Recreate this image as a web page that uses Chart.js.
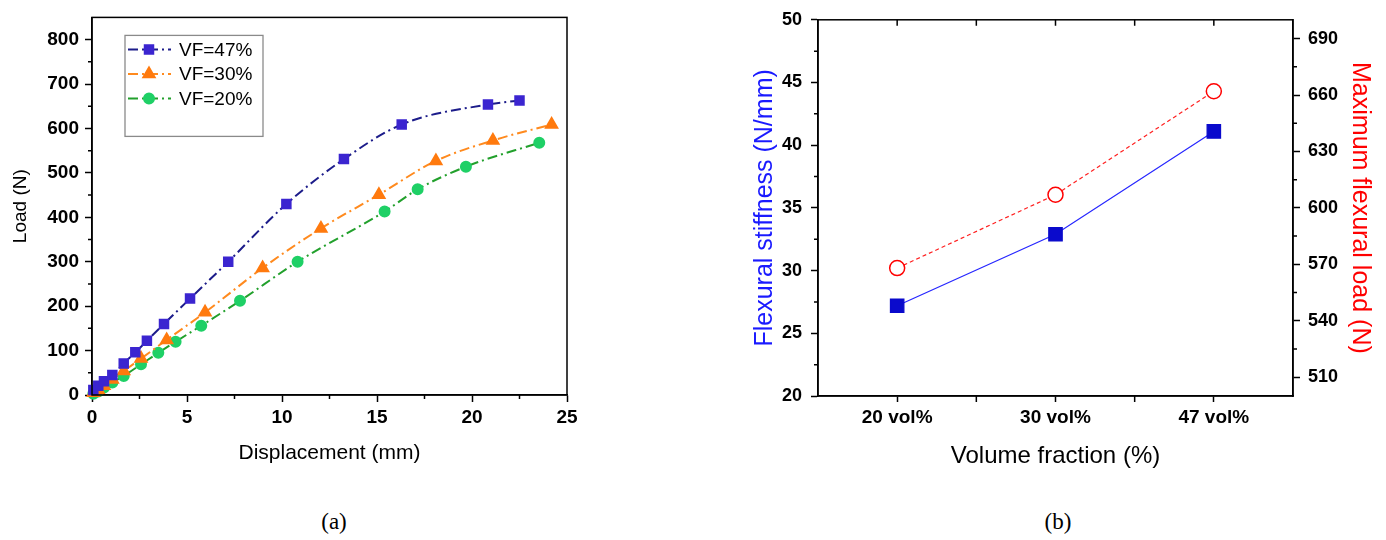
<!DOCTYPE html>
<html>
<head>
<meta charset="utf-8">
<script src="https://cdn.jsdelivr.net/npm/chart.js@4.4.1/dist/chart.umd.min.js"></script>
<style>
  body { margin: 0; background: #fff; width: 1386px; height: 540px; position: relative; overflow: hidden; }
  .wrap { position: absolute; top: 0; }
  #wrapA { left: 5px; width: 595px; height: 470px; }
  #wrapB { left: 746px; width: 633px; height: 475px; }
  .cap { position: absolute; top: 509px; line-height: 26px; font: 23px 'Liberation Serif', 'Times New Roman', serif; transform: translateX(-50%); }
</style>
</head>
<body>
<div class="wrap" id="wrapA"><canvas id="chartA"></canvas></div>
<div class="wrap" id="wrapB"><canvas id="chartB"></canvas></div>
<div class="cap" style="left:334px">(a)</div>
<div class="cap" style="left:1058px">(b)</div>
<script>
// (a) load-displacement curves
const vf47X = [0.07, 0.33, 0.63, 1.07, 1.67, 2.28, 2.89, 3.79, 5.16, 7.17, 10.23, 13.26, 16.3, 20.84, 22.5];
const vf47Y = [11, 21, 31, 45, 71, 96, 122, 160, 217, 300, 430, 531, 609, 654, 663];
const vf30X = [0.07, 0.33, 0.63, 1.07, 1.67, 2.58, 3.93, 5.95, 8.98, 12.05, 15.1, 18.1, 21.1, 24.19];
const vf30Y = [5, 11, 21, 35, 54, 82, 124, 186, 286, 375, 451, 527, 573, 609];
const vf20X = [0.07, 0.33, 0.63, 1.07, 1.67, 2.58, 3.49, 4.4, 5.75, 7.79, 10.82, 15.4, 17.14, 19.68, 23.54];
const vf20Y = [3, 8, 17, 28, 43, 69, 95, 120, 156, 212, 300, 413, 463, 514, 568];
const loadTicks = [0, 100, 200, 300, 400, 500, 600, 700, 800];

// (b) stiffness and max load vs volume fraction
const fractions = ['20 vol%', '30 vol%', '47 vol%'];
const stiffness = [27.2, 32.9, 41.1];
const maxLoad = [568, 607, 662];
const maxLoadTicks = [510, 540, 570, 600, 630, 660, 690];

Chart.defaults.font.family = "'Liberation Sans', Arial, sans-serif";
Chart.defaults.color = '#000';
Chart.defaults.animation = false;

const pts = (xs, ys) => xs.map((x, i) => ({ x: x, y: ys[i] }));

// tiny ticks between the labelled ones (and inward ticks on the top edge)
const minorTicks = {
  id: 'minorTicks',
  afterDraw(chart, args, opts) {
    const ctx = chart.ctx;
    const ca = chart.chartArea;
    ctx.save();
    ctx.strokeStyle = '#000';
    ctx.lineWidth = 1.5;
    (opts.axes || []).forEach(a => {
      const sc = chart.scales[a.id];
      let px = [];
      if (sc.type === 'category') {
        for (let i = 0; i < sc.ticks.length - 1; i++) px.push(sc.getPixelForValue(i + 0.5));
        if (a.major) sc.ticks.forEach((t, i) => px.push(sc.getPixelForValue(i)));
      } else {
        const v = sc.ticks.map(t => t.value);
        const step = v[1] - v[0];
        const mids = v.map(x => x + step / 2);
        mids.unshift(v[0] - step / 2);
        mids.filter(m => m > sc.min && m < sc.max).forEach(m => px.push(sc.getPixelForValue(m)));
      }
      ctx.beginPath();
      px.forEach(p => {
        if (a.edge === 'left') { ctx.moveTo(ca.left, p); ctx.lineTo(ca.left - a.len, p); }
        if (a.edge === 'right') { ctx.moveTo(ca.right, p); ctx.lineTo(ca.right + a.len, p); }
        if (a.edge === 'bottom') { ctx.moveTo(p, ca.bottom); ctx.lineTo(p, ca.bottom + a.len); }
        if (a.edge === 'top') { ctx.moveTo(p, ca.top); ctx.lineTo(p, ca.top + a.len); }
      });
      ctx.stroke();
    });
    ctx.restore();
  }
};

const frame = {
  id: 'frame',
  afterDraw(chart) {
    const { ctx, chartArea: ca } = chart;
    ctx.save();
    ctx.strokeStyle = '#000';
    ctx.lineWidth = 1.5;
    ctx.strokeRect(ca.left, ca.top, ca.right - ca.left, ca.bottom - ca.top);
    ctx.restore();
  }
};

// legend box inside the plot, with line + marker samples
const boxLegend = {
  id: 'boxLegend',
  afterDatasetsDraw(chart, args, o) {
    const { ctx, chartArea: ca } = chart;
    const x0 = ca.left + o.dx, y0 = ca.top + o.dy;
    ctx.save();
    ctx.fillStyle = '#fff';
    ctx.fillRect(x0, y0, o.w, o.h);
    ctx.strokeStyle = '#8a8a8a';
    ctx.lineWidth = 1.3;
    ctx.strokeRect(x0, y0, o.w, o.h);
    chart.data.datasets.forEach((ds, i) => {
      const y = y0 + o.first + i * o.gap;
      ctx.strokeStyle = ds.borderColor;
      ctx.lineWidth = ds.borderWidth;
      ctx.setLineDash(ds.borderDash);
      ctx.beginPath();
      ctx.moveTo(x0 + 3, y);
      ctx.lineTo(x0 + 46, y);
      ctx.stroke();
      ctx.setLineDash([]);
      ctx.fillStyle = ds.pointBackgroundColor;
      ctx.strokeStyle = ds.pointBorderColor;
      Chart.helpers.drawPoint(ctx, { pointStyle: ds.pointStyle, radius: ds.pointRadius, rotation: 0, borderWidth: 1 }, x0 + 24, y);
      ctx.fillStyle = '#000';
      ctx.font = "19px 'Liberation Sans', Arial, sans-serif";
      ctx.textBaseline = 'middle';
      ctx.fillText(ds.label, x0 + 54, y + 1);
    });
    ctx.restore();
  }
};

const dashDot = [10, 4, 2, 4];

new Chart(document.getElementById('chartA'), {
  type: 'line',
  data: {
    datasets: [
      { label: 'VF=47%', data: pts(vf47X, vf47Y), borderColor: '#1c1c8a', borderWidth: 2, borderDash: dashDot,
        pointStyle: 'rect', pointRadius: 6, pointBackgroundColor: '#3b25d0', pointBorderColor: '#3b25d0',
        cubicInterpolationMode: 'monotone', clip: false },
      { label: 'VF=30%', data: pts(vf30X, vf30Y), borderColor: '#ff8a1e', borderWidth: 2, borderDash: dashDot,
        pointStyle: 'triangle', pointRadius: 6.5, pointBackgroundColor: '#ff7a0e', pointBorderColor: '#ff7a0e',
        cubicInterpolationMode: 'monotone', clip: false },
      { label: 'VF=20%', data: pts(vf20X, vf20Y), borderColor: '#22a02c', borderWidth: 2, borderDash: dashDot,
        pointStyle: 'circle', pointRadius: 5, pointBackgroundColor: '#1fd066', pointBorderColor: '#1fd066',
        cubicInterpolationMode: 'monotone', clip: false }
    ]
  },
  options: {
    responsive: true,
    maintainAspectRatio: false,
    layout: { padding: { top: 13, right: 33, left: 0, bottom: 0 } },
    plugins: {
      legend: { display: false },
      tooltip: { enabled: false },
      boxLegend: { dx: 33, dy: 18, w: 138, h: 101, first: 14, gap: 24.5 },
      minorTicks: { axes: [{ id: 'x', edge: 'bottom', len: 4 }, { id: 'y', edge: 'left', len: 4 }] }
    },
    scales: {
      x: {
        type: 'linear', min: 0, max: 25,
        ticks: { stepSize: 5, padding: 4, font: { size: 19, weight: 'bold' } },
        grid: { drawOnChartArea: false, tickLength: 7, tickColor: '#000', tickWidth: 1.5 },
        border: { color: '#000', width: 1.5 },
        title: { display: true, text: 'Displacement (mm)', font: { size: 21 } },
        afterFit: s => { s.height = 75; }
      },
      y: {
        min: 0, max: 850,
        afterBuildTicks: s => { s.ticks = loadTicks.map(v => ({ value: v })); },
        ticks: { padding: 6, font: { size: 19, weight: 'bold' } },
        grid: { drawOnChartArea: false, tickLength: 7, tickColor: '#000', tickWidth: 1.5 },
        border: { color: '#000', width: 1.5 },
        title: { display: true, text: 'Load (N)', font: { size: 19 } },
        afterFit: s => { s.width = 87; }
      }
    }
  },
  plugins: [frame, minorTicks, boxLegend]
});

new Chart(document.getElementById('chartB'), {
  type: 'line',
  data: {
    labels: fractions,
    datasets: [
      { label: 'Flexural stiffness', data: stiffness, yAxisID: 'y', borderColor: '#2626ff', borderWidth: 1.2,
        pointStyle: 'rect', pointRadius: 9.5, pointBackgroundColor: '#0a0acc', pointBorderColor: '#0a0acc', clip: false },
      { label: 'Maximum flexural load', data: maxLoad, yAxisID: 'y1', borderColor: '#ff2020', borderWidth: 1.2, borderDash: [4, 3],
        pointStyle: 'circle', pointRadius: 7.5, pointBackgroundColor: '#fff', pointBorderColor: '#ff0000', pointBorderWidth: 1.5, clip: false }
    ]
  },
  options: {
    responsive: true,
    maintainAspectRatio: false,
    layout: { padding: { top: 13, right: 0, left: 0, bottom: 0 } },
    plugins: {
      legend: { display: false },
      tooltip: { enabled: false },
      minorTicks: { axes: [
        { id: 'x', edge: 'bottom', len: 6 },
        { id: 'x', edge: 'top', len: 6, major: true },
        { id: 'y', edge: 'left', len: 4 },
        { id: 'y1', edge: 'right', len: 4 }
      ] }
    },
    scales: {
      x: {
        offset: true,
        ticks: { padding: 4, font: { size: 19, weight: 'bold' } },
        grid: { offset: false, drawOnChartArea: false, tickLength: 6, tickColor: '#000', tickWidth: 1.5 },
        border: { color: '#000', width: 1.5 },
        title: { display: true, text: 'Volume fraction (%)', font: { size: 24 } },
        afterFit: s => { s.height = 79; }
      },
      y: {
        position: 'left', min: 20, max: 50,
        ticks: { stepSize: 5, padding: 9, font: { size: 18, weight: 'bold' } },
        grid: { drawOnChartArea: false, tickLength: 7, tickColor: '#000', tickWidth: 1.5 },
        border: { color: '#000', width: 1.5 },
        title: { display: true, text: 'Flexural stiffness (N/mm)', color: '#1a1aff', font: { size: 25 } },
        afterFit: s => { s.width = 72; }
      },
      y1: {
        position: 'right', min: 500, max: 700,
        afterBuildTicks: s => { s.ticks = maxLoadTicks.map(v => ({ value: v })); },
        ticks: { padding: 8, font: { size: 18, weight: 'bold' } },
        grid: { drawOnChartArea: false, tickLength: 7, tickColor: '#000', tickWidth: 1.5 },
        border: { color: '#000', width: 1.5 },
        title: { display: true, text: 'Maximum flexural load (N)', color: '#ff0000', font: { size: 25 } },
        afterFit: s => { s.width = 86; }
      }
    }
  },
  plugins: [frame, minorTicks]
});
</script>
</body>
</html>
